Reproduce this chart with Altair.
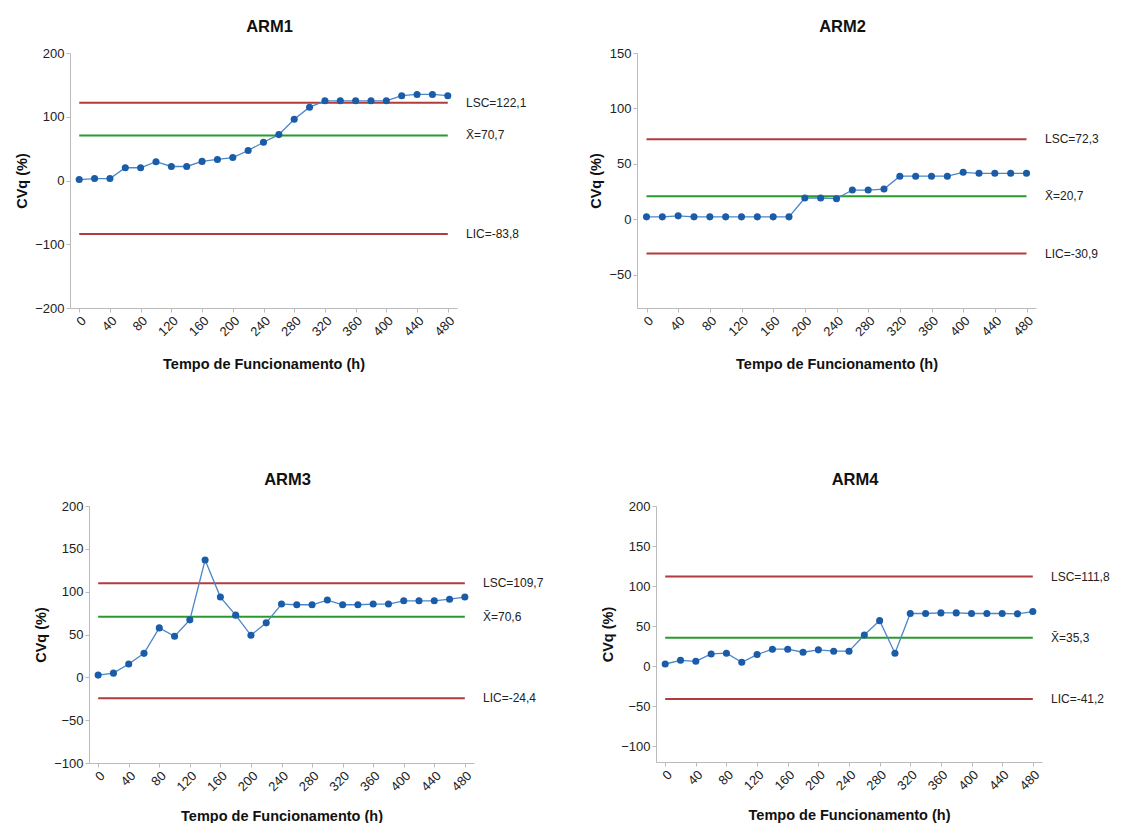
import altair as alt
import pandas as pd

hours = list(range(0, 481, 20))

arm1 = [1.5, 3, 3, 20, 20, 29.5, 22, 22, 30, 33, 36, 47, 60, 72, 96, 115,
        125, 125, 125, 125, 125, 133, 135, 135, 133]
arm2 = [2.2, 2.2, 3.1, 2.2, 2.2, 2.2, 2.2, 2.2, 2.2, 2.2, 19.2, 19.2, 18.6,
        26.4, 26.4, 27.3, 38.9, 38.9, 38.9, 38.9, 42.4, 41.5, 41.5, 41.5, 41.5]
arm3 = [2.6, 4.9, 15.5, 28, 57.7, 47.9, 67.1, 137, 93.7, 72.6, 49.1, 63.6,
        85.5, 84.7, 84.7, 90.2, 84.7, 84.7, 85.5, 85.5, 89.3, 89.3, 89.3, 91.2, 93.7]
arm4 = [2.5, 7.1, 5.9, 15.1, 16, 4.6, 14.3, 21, 21, 17.2, 20.2, 18.5, 18.5,
        38.7, 56.7, 16, 65.6, 65.6, 66.4, 66.4, 65.6, 65.6, 65.6, 65.2, 68.1]

titles = ["ARM1", "ARM2", "ARM3", "ARM4"]
lsc = [122.1, 72.3, 109.7, 111.8]
mean = [70.7, 20.7, 70.6, 35.3]
lic = [-83.8, -30.9, -24.4, -41.2]
lsc_txt = ["LSC=122,1", "LSC=72,3", "LSC=109,7", "LSC=111,8"]
mean_txt = ["X\u0304=70,7", "X\u0304=20,7", "X\u0304=70,6", "X\u0304=35,3"]
lic_txt = ["LIC=-83,8", "LIC=-30,9", "LIC=-24,4", "LIC=-41,2"]
y_domains = [[-200, 200], [-80, 150], [-100, 200], [-120, 200]]
y_ticks = [[-200, -100, 0, 100, 200], [-50, 0, 50, 100, 150],
           [-100, -50, 0, 50, 100, 150, 200], [-100, -50, 0, 50, 100, 150, 200]]
x_ticks = list(range(0, 481, 40))

FONT = "Liberation Sans"
RED = "#b23b3b"
GREEN = "#2a9a2e"
LINE = "#4a86c8"
DOT = "#1a5ca8"


def panel(i, values, w, h, title_y, shift=0):
    # shift: pixels by which the plot area starts inside the panel
    df = pd.DataFrame({"x": hours, "y": values})
    lim = pd.DataFrame({
        "x0": [0, 0, 0],
        "x1": [480, 480, 480],
        "y": [lsc[i], mean[i], lic[i]],
        "c": [RED, GREEN, RED],
        "label": [lsc_txt[i], mean_txt[i], lic_txt[i]],
    })
    total_w = w + shift
    if shift:
        xscale = alt.Scale(domain=[-12, 492], nice=False, zero=False, range=[shift, total_w])
    else:
        xscale = alt.Scale(domain=[-12, 492], nice=False, zero=False)
    yscale = alt.Scale(domain=y_domains[i], nice=False, zero=False)
    xaxis = alt.Axis(values=x_ticks, labelAngle=-45, labelOverlap=False,
                     title="Tempo de Funcionamento (h)",
                     grid=False, titleY=title_y, titleBaseline="alphabetic",
                     titleX=shift + w / 2)
    yaxis = alt.Axis(values=y_ticks[i], grid=False, title="CVq (%)", titlePadding=5,
                     labelOverlap=False, offset=-shift)
    X = alt.X("x:Q", scale=xscale, axis=xaxis)
    Y = alt.Y("y:Q", scale=yscale, axis=yaxis)

    base = alt.Chart(df)
    rules = alt.Chart(lim).mark_rule(strokeWidth=2).encode(
        x=alt.X("x0:Q", scale=xscale, axis=xaxis),
        x2="x1:Q",
        y=Y,
        color=alt.Color("c:N", scale=None),
    )
    line = base.mark_line(color=LINE, strokeWidth=1.3).encode(x=X, y=Y)
    dots = base.mark_circle(color=DOT, size=50, opacity=1).encode(x=X, y=Y)
    labels = alt.Chart(lim).mark_text(align="left", baseline="middle", font=FONT,
                                      fontSize=12, color="#222222").encode(
        x=alt.value(total_w + 9),
        y=Y,
        text="label:N",
    )
    return alt.layer(rules, line, dots, labels).properties(
        width=total_w, height=h,
        title=alt.TitleParams(titles[i], fontSize=16.5, fontWeight="bold", font=FONT,
                              color="#111111", offset=12, anchor="middle",
                              dx=6 + shift / 2),
    )


a1 = panel(0, arm1, 387, 255, 60)
a2 = panel(1, arm2, 399, 255, 60)
a3 = panel(2, arm3, 385, 257, 57, shift=19)
a4 = panel(3, arm4, 386, 256, 57)

top = alt.hconcat(a1, a2, spacing=180, bounds="flush")
bottom = alt.hconcat(a3, a4, spacing=182, bounds="flush")

chart = alt.vconcat(top, bottom, spacing=100).properties(
    padding={"left": 14, "top": 18, "right": 5, "bottom": 0},
    background="white",
).configure_view(stroke="transparent", strokeWidth=0).configure_axis(
    labelFont=FONT, labelFontSize=13, labelColor="#222222",
    titleFont=FONT, titleFontSize=14.5, titleFontWeight="bold", titleColor="#111111",
    domainColor="#bbbbbb", tickColor="#bbbbbb", tickSize=4, labelPadding=2,
)

chart.save("out.html", embed_options={"renderer": "svg", "actions": False})
